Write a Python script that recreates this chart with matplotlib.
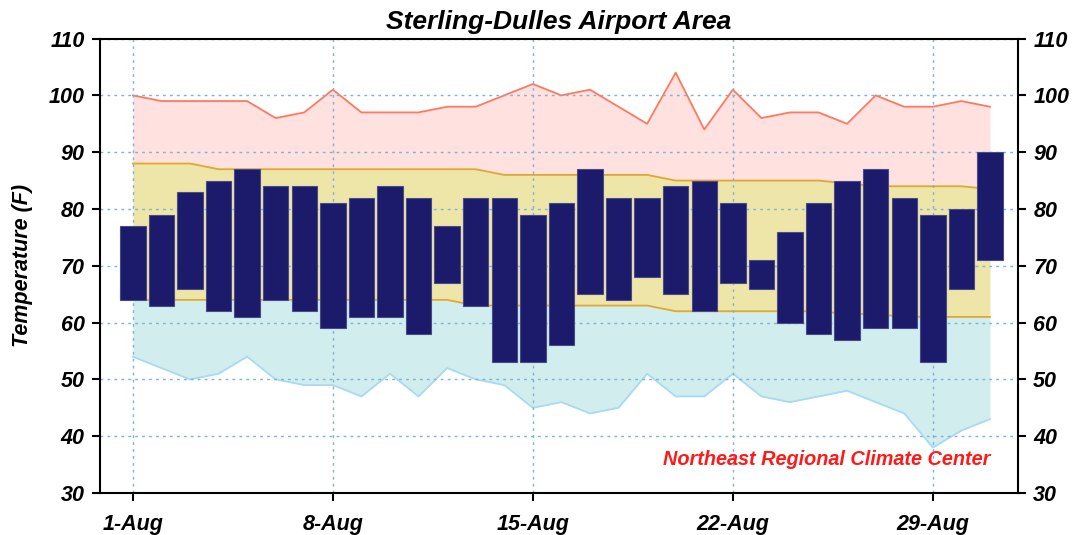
import numpy as np
import matplotlib
matplotlib.use("Agg")
import matplotlib.pyplot as plt

plt.rcParams['font.family'] = ['Liberation Sans', 'DejaVu Sans']

# giorni di agosto
days = np.arange(1, 32)

# osservati (max / min giornalieri)
obs_high = [77, 79, 83, 85, 87, 84, 84, 81, 82, 84, 82, 77, 82, 82, 79, 81,
            87, 82, 82, 84, 85, 81, 71, 76, 81, 85, 87, 82, 79, 80, 90]
obs_low = [64, 63, 66, 62, 61, 64, 62, 59, 61, 61, 58, 67, 63, 53, 53, 56,
           65, 64, 68, 65, 62, 67, 66, 60, 58, 57, 59, 59, 53, 66, 71]

# normali
norm_high = [88, 88, 88, 87, 87, 87, 87, 87, 87, 87, 87, 87, 87, 86, 86, 86,
             86, 86, 86, 85, 85, 85, 85, 85, 85, 84.5, 84, 84, 84, 84, 83.5]
norm_low = [64, 64, 64, 64, 64, 64, 64, 64, 64, 64, 64, 64, 63, 63, 63, 63,
            63, 63, 63, 62, 62, 62, 62, 62, 62, 61.5, 61.5, 61, 61, 61, 61]

# record
rec_high = [100, 99, 99, 99, 99, 96, 97, 101, 97, 97, 97, 98, 98, 100, 102, 100,
            101, 98, 95, 104, 94, 101, 96, 97, 97, 95, 100, 98, 98, 99, 98]
rec_low = [54, 52, 50, 51, 54, 50, 49, 49, 47, 51, 47, 52, 50, 49, 45, 46,
           44, 45, 51, 47, 47, 51, 47, 46, 47, 48, 46, 44, 38, 41, 43]

tick_days = [1, 8, 15, 22, 29]
tick_labels = ["1-Aug", "8-Aug", "15-Aug", "22-Aug", "29-Aug"]

fig = plt.figure(figsize=(10.81, 5.35), dpi=100)
ax = fig.add_axes([0.0925, 0.0785, 0.8492, 0.8494])

ax.fill_between(days, norm_high, rec_high, color="#ffe1df", lw=0, zorder=1)
ax.fill_between(days, norm_low, norm_high, color="#ede6a8", lw=0, zorder=1)
ax.fill_between(days, rec_low, norm_low, color="#d1eded", lw=0, zorder=1)
ax.plot(days, rec_high, color="#ff7860", lw=1.3, zorder=2)
ax.plot(days, norm_high, color="#e0a830", lw=1.3, zorder=2)
ax.plot(days, norm_low, color="#e0a830", lw=1.3, zorder=2)
ax.plot(days, rec_low, color="#a8daf2", lw=1.3, zorder=2)

lo = np.array(obs_low)
hi = np.array(obs_high)
ax.bar(days, hi - lo, bottom=lo, width=0.89, color="#1b1a6b",
       edgecolor="#4a4a8a", linewidth=0.8, zorder=4)

ax.set_xlim(-0.15, 31.98)
ax.set_ylim(30, 110)
ax.set_yticks(range(30, 111, 10))
ax.set_xticks(tick_days)
ax.set_xticklabels(tick_labels)

ax.grid(True, color="#7fb2d8", linestyle=(0, (2, 3)), lw=1.0, zorder=3)
ax.set_axisbelow(False)

for s in ax.spines.values():
    s.set_linewidth(1.5)
    s.set_zorder(6)

ax.tick_params(axis="both", direction="out", length=6, width=1.5, pad=5,
               labelsize=15.5)
ax.tick_params(axis="x", pad=9)
ax.tick_params(axis="y", right=True, labelright=True)
for lab in ax.get_xticklabels() + ax.get_yticklabels():
    lab.set_fontweight("bold")
    lab.set_fontstyle("italic")
for t in ax.yaxis.get_major_ticks():
    t.label2.set_fontweight("bold")
    t.label2.set_fontstyle("italic")

ax.set_ylabel("Temperature (F)", fontsize=15.5, fontweight="bold",
              fontstyle="italic", labelpad=11)
ax.set_title("Sterling-Dulles Airport Area", fontsize=19, fontweight="bold",
             fontstyle="italic", pad=7)

ax.text(31, 34.3, "Northeast Regional Climate Center", color="#ff1a1a",
        fontsize=14.3, fontweight="bold", fontstyle="italic", ha="right",
        va="bottom", zorder=7)

fig.savefig("out.png", dpi=100)
